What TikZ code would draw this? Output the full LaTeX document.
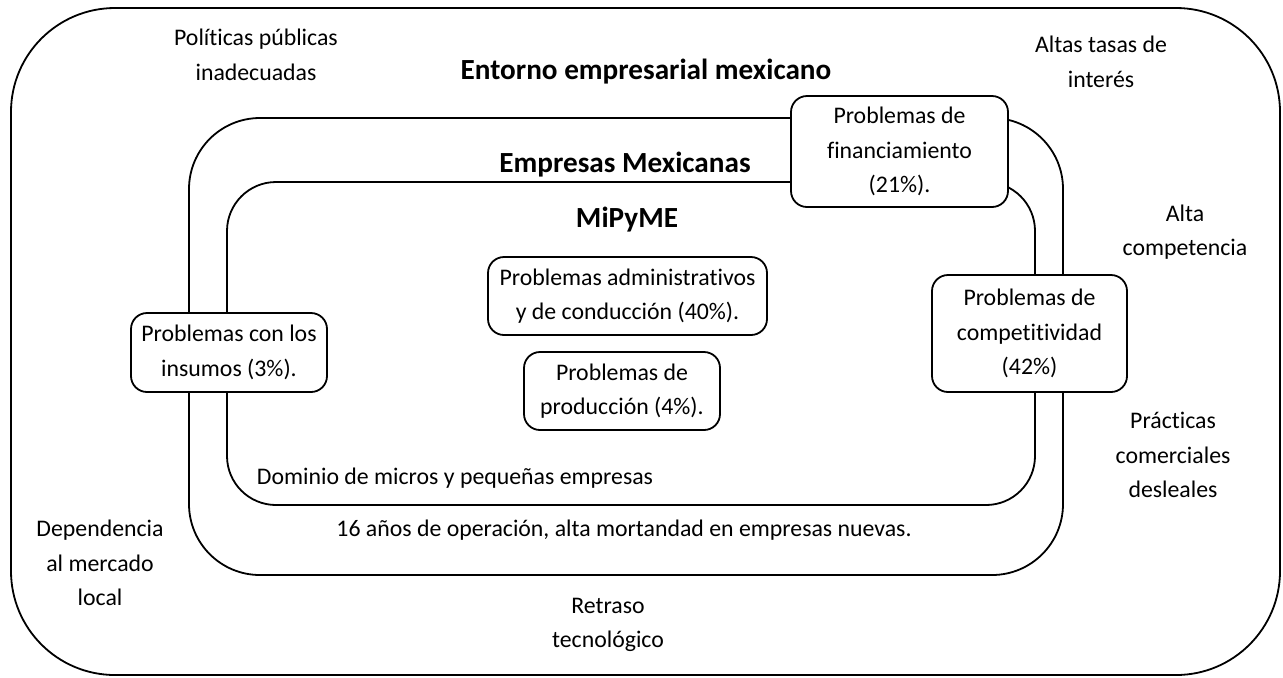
\documentclass[tikz,border=0pt]{standalone}
\usepackage{fontspec}
\setmainfont{Carlito}[Ligatures=NoCommon]
\usepackage{tikz}
\usetikzlibrary{positioning}

\begin{document}
\begin{tikzpicture}[
  x=0.5pt, y=-0.5pt,
  marco/.style={line width=0.9pt, rounded corners=#1},
  caja/.style={draw, line width=0.9pt, fill=white, rounded corners=8pt,
               align=center, inner sep=0pt,
               font=\fontsize{11.9}{17.25}\selectfont},
  texto/.style={align=center, inner sep=0pt,
                font=\fontsize{11.9}{17.25}\selectfont},
  titulo/.style={texto, font=\fontsize{14.6}{17.25}\selectfont\bfseries},
]
\useasboundingbox (0,0) rectangle (1283,677);

% === Nested frames ===
\draw[marco=52pt] (11,8) rectangle (1280,675);
\draw[marco=35.5pt] (189,118) rectangle (1063,575);
\draw[marco=24.5pt] (227,182) rectangle (1035,505);

% === Titles ===
\node[titulo] (entorno) at (646,72) {Entorno empresarial mexicano};
\node[titulo] (empresas) at (625,165) {Empresas Mexicanas};
\node[titulo] (mipyme) at (627,220) {MiPyME};

% === Problem boxes ===
\node[caja, minimum width=108.5pt, minimum height=55.5pt] (financ) at (899.5,151.5)
  {Problemas de\\financiamiento\\(21\%).};
\node[caja, minimum width=97.5pt, minimum height=58.5pt] (compet) at (1029.5,333.5)
  {Problemas de\\competitividad\\(42\%)};
\node[caja, minimum width=98pt, minimum height=39.5pt] (insumos) at (229,352.5)
  {Problemas con los\\insumos (3\%).};
\node[caja, minimum width=139.5pt, minimum height=39pt] (admin) at (627.5,296)
  {Problemas administrativos\\y de conducción (40\%).};
\node[caja, minimum width=98pt, minimum height=39pt] (produc) at (622,391)
  {Problemas de\\producción (4\%).};

% === Inner notes ===
\node[texto] (dominio) at (455,478) {Dominio de micros y pequeñas empresas};
\node[texto] (operacion) at (624,530)
  {16 años de operación, alta mortandad en empresas nuevas.};

% === Environment factors ===
\node[texto] (politicas) at (256,55) {Políticas públicas\\inadecuadas};
\node[texto] (tasas) at (1101,62) {Altas tasas de\\interés};
\node[texto] (competencia) at (1185,232) {Alta\\competencia};
\node[texto] (practicas) at (1173,455) {Prácticas\\comerciales\\desleales};
\node[texto] (dependencia) at (100,563) {Dependencia\\al mercado\\local};
\node[texto] (retraso) at (608,625) {Retraso\\tecnológico};

\end{tikzpicture}
\end{document}
